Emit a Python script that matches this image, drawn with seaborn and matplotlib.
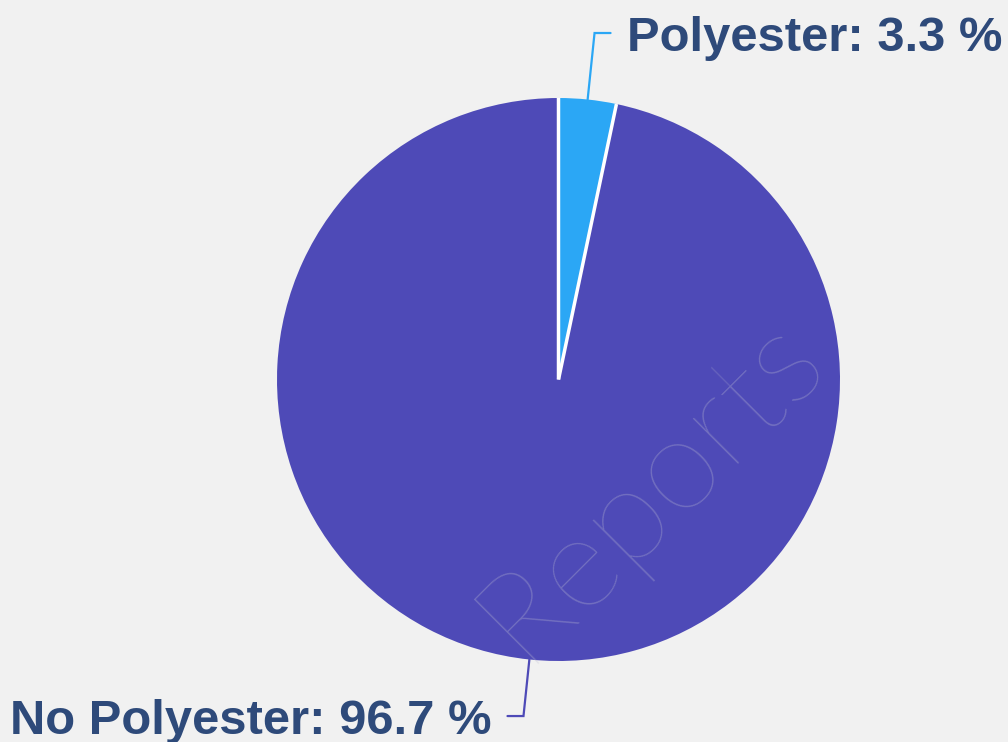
import numpy as np
import matplotlib
matplotlib.use("Agg")
import matplotlib.pyplot as plt
import seaborn as sns

# --- Données ---
categories = ["Polyester", "No Polyester"]
parts = [3.3, 96.7]
couleurs = ["#2ba7f5", "#4e4ab7"]

sns.set_theme(style="white")
plt.rcParams["font.family"] = ["Liberation Sans", "DejaVu Sans"]

fond = "#f1f1f1"
texte = "#2e4a7a"

fig = plt.figure(figsize=(10.08, 7.42), dpi=100, facecolor=fond)
ax = fig.add_axes([0, 0, 1, 1])
ax.set_facecolor(fond)

# pie placé en coordonnées pixels (origine en bas à gauche)
cx, cy, r = 558.5, 362.5, 281.5
wedges, _ = ax.pie(parts, colors=couleurs, startangle=90, counterclock=False,
                   center=(cx, cy), radius=r,
                   wedgeprops=dict(linewidth=0))
ax.set_xlim(0, 1008)
ax.set_ylim(0, 742)
ax.set_aspect("equal")
ax.axis("off")

# séparateurs blancs entre les parts (pas de contour extérieur)
for w in wedges:
    a = np.deg2rad(w.theta1)
    ax.plot([cx, cx + r * np.cos(a)], [cy, cy + r * np.sin(a)],
            color="white", lw=2.5, solid_capstyle="butt", zorder=2)

# --- Étiquettes avec traits de rappel ---
reglages = [
    # (facteur radial, sens horizontal, baseline)
    (1.2375, 1, 691),
    (1.202, -1, 8),
]
for w, nom, val, coul, (fr, sens, base) in zip(wedges, categories, parts, couleurs, reglages):
    ang = np.deg2rad((w.theta1 + w.theta2) / 2)
    x0, y0 = cx + r * np.cos(ang), cy + r * np.sin(ang)
    x1, y1 = cx + fr * r * np.cos(ang), cy + fr * r * np.sin(ang)
    x2 = x1 + sens * 16
    ax.plot([x0, x1, x2], [y0, y1, y1], color=coul, lw=1.6,
            solid_joinstyle="miter", zorder=1)
    ax.text(x2 + sens * 16, base, f"{nom}: {val} %",
            ha="left" if sens > 0 else "right", va="baseline",
            fontsize=35.3, fontweight="bold", color=texte)

# filigrane
ax.text(650, 255, "Reports", rotation=45, ha="center", va="center",
        fontsize=94, fontweight="light", family=["Lato", "DejaVu Sans"],
        color="#c4c4d4", alpha=0.3, zorder=3)

fig.savefig("out.png", dpi=100, facecolor=fond)
